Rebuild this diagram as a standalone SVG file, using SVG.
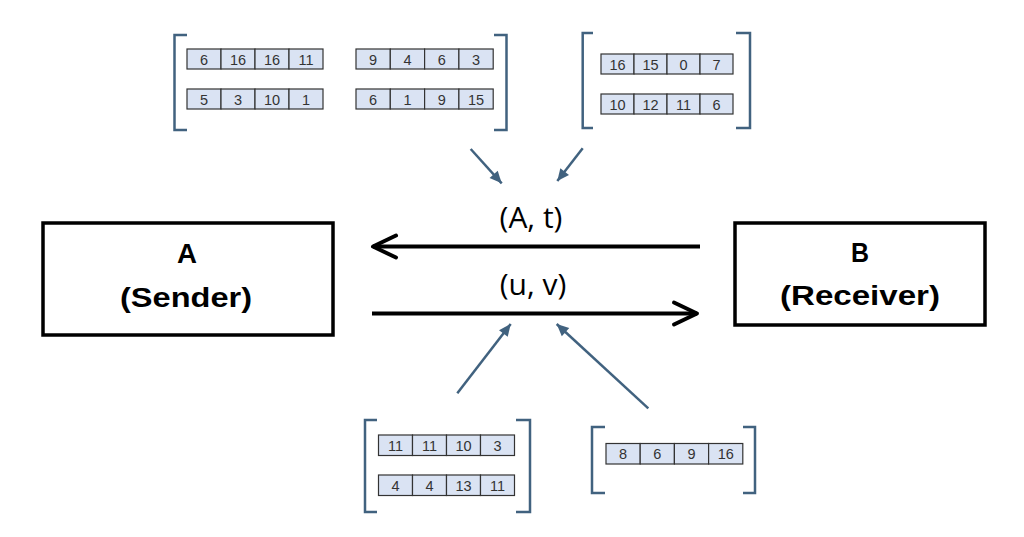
<svg xmlns="http://www.w3.org/2000/svg" width="1024" height="537" viewBox="0 0 1024 537">
<defs>
<style>
.cell{fill:#dae3f3;stroke:#333;stroke-width:1.2}
.ct{font-family:"Liberation Sans",Arial,sans-serif;font-size:14.5px;fill:#333;text-anchor:middle}
.br{fill:none;stroke:#41627f;stroke-width:2.5}
.box{fill:#fff;stroke:#000;stroke-width:3.5}
.bt{font-family:"Liberation Sans",Arial,sans-serif;font-weight:bold;font-size:27px;fill:#000;text-anchor:middle}
.lbl{font-family:"Open Sans","Noto Sans",sans-serif;font-size:30px;fill:#000;text-anchor:middle}
.blk{stroke:#000;stroke-width:4;fill:none}
.blu{stroke:#41627f;stroke-width:2.5;fill:none}
</style>
<marker id="chev" markerUnits="userSpaceOnUse" viewBox="-26 -14 30 28" refX="0" refY="0" markerWidth="30" markerHeight="28" orient="auto" overflow="visible">
<path d="M-23,-11 L0,0 L-23,11" fill="none" stroke="#000" stroke-width="4" stroke-linecap="round" stroke-linejoin="round"/>
</marker>
<marker id="tri" markerUnits="userSpaceOnUse" viewBox="-12 -6 12 12" refX="0" refY="0" markerWidth="12" markerHeight="12" orient="auto" overflow="visible">
<path d="M-12,-5.5 L0,0 L-12,5.5 Z" fill="#41627f"/>
</marker>
</defs>
<rect width="1024" height="537" fill="#fff"/>

<g id="nodeA">
<rect class="box" x="43" y="223" width="290" height="112"/>
<text class="bt" x="187" y="263" textLength="20" lengthAdjust="spacingAndGlyphs">A</text>
<text class="bt" x="186" y="307" textLength="132" lengthAdjust="spacingAndGlyphs">(Sender)</text>
</g>
<g id="nodeB">
<rect class="box" x="735" y="223" width="250" height="102"/>
<text class="bt" x="860" y="262" textLength="18" lengthAdjust="spacingAndGlyphs">B</text>
<text class="bt" x="860" y="305" textLength="160" lengthAdjust="spacingAndGlyphs">(Receiver)</text>
</g>

<g id="matrix1">
<path class="br" d="M187,35 H174.5 V130 H187"/>
<path class="br" d="M494,35 H506.5 V130 H494"/>
<rect class="cell" x="187" y="49" width="34" height="20"/><rect class="cell" x="221" y="49" width="34" height="20"/><rect class="cell" x="255" y="49" width="34" height="20"/><rect class="cell" x="289" y="49" width="34" height="20"/>
<text class="ct" x="204" y="64.5">6</text><text class="ct" x="238" y="64.5">16</text><text class="ct" x="272" y="64.5">16</text><text class="ct" x="306" y="64.5">11</text>
<rect class="cell" x="187" y="89" width="34" height="20"/><rect class="cell" x="221" y="89" width="34" height="20"/><rect class="cell" x="255" y="89" width="34" height="20"/><rect class="cell" x="289" y="89" width="34" height="20"/>
<text class="ct" x="204" y="104.5">5</text><text class="ct" x="238" y="104.5">3</text><text class="ct" x="272" y="104.5">10</text><text class="ct" x="306" y="104.5">1</text>
<rect class="cell" x="356" y="49" width="34.3" height="20"/><rect class="cell" x="390.3" y="49" width="34.3" height="20"/><rect class="cell" x="424.6" y="49" width="34.3" height="20"/><rect class="cell" x="458.9" y="49" width="34.3" height="20"/>
<text class="ct" x="373" y="64.5">9</text><text class="ct" x="407.5" y="64.5">4</text><text class="ct" x="441.8" y="64.5">6</text><text class="ct" x="476" y="64.5">3</text>
<rect class="cell" x="356" y="89" width="34.3" height="20"/><rect class="cell" x="390.3" y="89" width="34.3" height="20"/><rect class="cell" x="424.6" y="89" width="34.3" height="20"/><rect class="cell" x="458.9" y="89" width="34.3" height="20"/>
<text class="ct" x="373" y="104.5">6</text><text class="ct" x="407.5" y="104.5">1</text><text class="ct" x="441.8" y="104.5">9</text><text class="ct" x="476" y="104.5">15</text>
</g>

<g id="matrix2">
<path class="br" d="M593,33 H582.7 V128 H593"/>
<path class="br" d="M736,33 H750 V128 H736"/>
<rect class="cell" x="601" y="54" width="33" height="20"/><rect class="cell" x="634" y="54" width="33" height="20"/><rect class="cell" x="667" y="54" width="33" height="20"/><rect class="cell" x="700" y="54" width="33" height="20"/>
<text class="ct" x="617.5" y="69.5">16</text><text class="ct" x="650.5" y="69.5">15</text><text class="ct" x="683.5" y="69.5">0</text><text class="ct" x="716.5" y="69.5">7</text>
<rect class="cell" x="601" y="94" width="33" height="20"/><rect class="cell" x="634" y="94" width="33" height="20"/><rect class="cell" x="667" y="94" width="33" height="20"/><rect class="cell" x="700" y="94" width="33" height="20"/>
<text class="ct" x="617.5" y="109.5">10</text><text class="ct" x="650.5" y="109.5">12</text><text class="ct" x="683.5" y="109.5">11</text><text class="ct" x="716.5" y="109.5">6</text>
</g>

<g id="matrix3">
<path class="br" d="M377,420 H365 V512 H377"/>
<path class="br" d="M516,420 H530 V512 H516"/>
<rect class="cell" x="378.5" y="435" width="34" height="20.5"/><rect class="cell" x="412.5" y="435" width="34" height="20.5"/><rect class="cell" x="446.5" y="435" width="34" height="20.5"/><rect class="cell" x="480.5" y="435" width="34" height="20.5"/>
<text class="ct" x="395.5" y="450.5">11</text><text class="ct" x="429.5" y="450.5">11</text><text class="ct" x="463.5" y="450.5">10</text><text class="ct" x="497.5" y="450.5">3</text>
<rect class="cell" x="378.5" y="475" width="34" height="20.5"/><rect class="cell" x="412.5" y="475" width="34" height="20.5"/><rect class="cell" x="446.5" y="475" width="34" height="20.5"/><rect class="cell" x="480.5" y="475" width="34" height="20.5"/>
<text class="ct" x="395.5" y="490.5">4</text><text class="ct" x="429.5" y="490.5">4</text><text class="ct" x="463.5" y="490.5">13</text><text class="ct" x="497.5" y="490.5">11</text>
</g>

<g id="matrix4">
<path class="br" d="M605,427 H592 V493 H605"/>
<path class="br" d="M743,427 H755 V493 H743"/>
<rect class="cell" x="606" y="443.5" width="34.2" height="20.5"/><rect class="cell" x="640.2" y="443.5" width="34.2" height="20.5"/><rect class="cell" x="674.4" y="443.5" width="34.2" height="20.5"/><rect class="cell" x="708.6" y="443.5" width="34.2" height="20.5"/>
<text class="ct" x="623" y="459">8</text><text class="ct" x="657.3" y="459">6</text><text class="ct" x="691.5" y="459">9</text><text class="ct" x="725.7" y="459">16</text>
</g>

<g id="connectors">
<line class="blk" x1="700" y1="246.5" x2="373" y2="246.5" marker-end="url(#chev)"/>
<line class="blk" x1="372" y1="313.5" x2="697" y2="313.5" marker-end="url(#chev)"/>
<text class="lbl" x="531" y="228">(A, t)</text>
<text class="lbl" x="533" y="295">(u, v)</text>
<line class="blu" x1="470.7" y1="149" x2="501.7" y2="183.3" marker-end="url(#tri)"/>
<line class="blu" x1="582.7" y1="148.3" x2="557.3" y2="181" marker-end="url(#tri)"/>
<line class="blu" x1="457.3" y1="393.3" x2="510.7" y2="324" marker-end="url(#tri)"/>
<line class="blu" x1="648.3" y1="408.3" x2="556.7" y2="324" marker-end="url(#tri)"/>
</g>
</svg>
